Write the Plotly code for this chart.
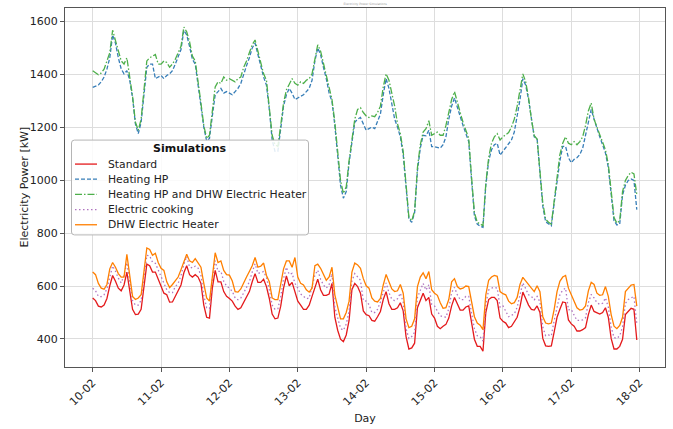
import pandas as pd
import plotly.graph_objects as go

start = pd.Timestamp("2023-02-10 00:00")
hours = list(range(192))
day_ticks = list(range(9))

standard = [555,545,524,521,528,553,601,640,618,592,
 582,604,653,586,512,492,494,512,592,683,
 677,653,653,628,598,573,567,539,540,561,
 579,604,650,677,643,634,643,634,610,528,
 482,479,592,659,616,616,579,561,553,543,
 524,512,518,537,561,579,616,647,614,614,
 626,598,553,494,476,479,524,592,638,601,
 614,573,543,528,512,512,528,561,598,626,
 586,565,565,570,610,482,433,399,390,415,
 470,586,610,598,573,506,492,488,470,467,
 484,504,549,579,533,512,512,518,537,506,
 409,362,366,384,518,543,573,545,557,494,
 479,448,439,448,455,479,525,557,531,509,
 509,521,525,457,399,372,372,354,500,549,
 557,557,545,479,467,460,443,448,463,482,
 521,577,553,528,512,509,525,500,402,374,
 372,374,427,482,512,540,537,472,457,448,
 430,430,435,443,492,528,504,500,494,500,
 518,482,402,362,362,372,399,492,506,516,
 512,396]

heating_hp = [1351,1356,1360,1372,1390,1420,1463,1549,1518,1463,
 1421,1402,1414,1378,1311,1213,1176,1219,1317,1427,
 1439,1439,1384,1390,1396,1384,1396,1402,1414,1439,
 1469,1494,1567,1549,1506,1457,1439,1366,1286,1201,
 1148,1158,1243,1323,1335,1347,1329,1335,1329,1323,
 1335,1347,1366,1402,1433,1463,1500,1518,1475,1427,
 1390,1359,1268,1152,1109,1109,1189,1280,1323,1347,
 1329,1305,1311,1317,1323,1335,1347,1378,1451,1500,
 1475,1427,1384,1329,1298,1207,1085,981,932,957,
 1066,1146,1219,1231,1237,1213,1189,1195,1201,1195,
 1225,1250,1323,1384,1347,1292,1231,1201,1164,1097,
 963,853,841,877,1036,1121,1170,1168,1189,1127,
 1127,1124,1121,1134,1164,1231,1280,1311,1274,1237,
 1207,1176,1146,999,865,834,826,822,981,1073,
 1115,1134,1140,1095,1109,1124,1136,1152,1182,1243,
 1305,1384,1359,1305,1231,1164,1158,1036,902,843,
 834,828,914,999,1073,1128,1128,1085,1066,1079,
 1085,1097,1121,1170,1225,1268,1231,1195,1164,1134,
 1103,1048,950,847,831,834,944,981,999,1005,
 999,889]

heating_hp_dhw = [1414,1405,1399,1405,1420,1451,1482,1567,1530,1488,
 1451,1439,1463,1390,1317,1219,1189,1231,1329,1451,
 1463,1469,1475,1439,1439,1451,1445,1427,1439,1457,
 1482,1506,1579,1561,1524,1469,1451,1378,1292,1207,
 1158,1170,1256,1353,1372,1366,1390,1378,1384,1378,
 1372,1384,1390,1427,1451,1482,1512,1530,1488,1439,
 1402,1378,1280,1170,1134,1128,1207,1292,1341,1366,
 1384,1366,1359,1372,1366,1378,1384,1402,1463,1512,
 1488,1439,1390,1341,1305,1219,1097,999,950,975,
 1073,1158,1231,1268,1274,1256,1243,1237,1243,1240,
 1256,1280,1353,1402,1378,1329,1280,1213,1176,1109,
 975,859,847,883,1048,1134,1182,1195,1225,1170,
 1176,1182,1170,1170,1207,1256,1305,1335,1292,1256,
 1219,1189,1158,1011,877,841,834,828,987,1085,
 1140,1164,1176,1152,1164,1173,1180,1201,1231,1280,
 1335,1402,1372,1311,1231,1168,1156,1036,914,853,
 841,834,920,1012,1097,1140,1164,1140,1134,1146,
 1134,1146,1164,1207,1262,1292,1231,1201,1170,1140,
 1115,1060,963,859,838,847,957,999,1018,1030,
 1024,945]

electric_cooking = [592,582,561,560,567,590,634,676,656,630,
 612,640,688,622,545,528,528,546,628,716,
 714,690,686,662,634,610,586,575,575,598,
 610,640,682,712,672,668,675,668,640,565,
 518,515,625,696,655,656,618,600,592,580,
 555,548,555,574,598,616,653,684,648,650,
 655,632,586,528,512,514,560,628,671,644,
 648,610,592,570,561,552,555,596,641,660,
 626,604,592,606,647,520,482,440,433,456,
 505,620,647,635,622,545,543,530,500,500,
 512,540,579,612,575,550,545,552,573,540,
 439,402,409,425,557,585,610,585,605,531,
 525,505,488,484,482,514,575,595,567,549,
 549,561,561,498,439,412,409,392,532,585,
 592,595,592,520,525,505,484,490,494,520,
 567,612,590,567,561,548,561,540,445,412,
 415,412,470,525,567,585,592,510,512,490,
 470,470,472,480,537,568,555,537,531,535,
 555,520,445,405,402,412,445,535,549,555,
 561,457]

dhw_heater = [653,643,610,592,588,606,665,689,671,647,
 634,634,720,634,561,549,555,567,647,744,
 738,716,724,689,667,659,616,594,606,622,
 634,662,695,720,695,689,704,689,671,610,
 555,543,640,726,689,695,659,643,641,619,
 579,577,589,614,634,655,677,708,671,675,
 687,640,616,555,549,549,604,665,695,695,
 671,708,634,610,604,586,577,592,677,683,
 667,641,622,634,671,567,525,476,476,500,
 543,653,687,680,667,628,601,592,555,543,
 540,553,604,644,616,589,579,582,606,573,
 476,443,448,476,598,634,650,628,655,586,
 573,565,537,516,518,549,616,628,598,589,
 592,600,598,543,484,460,452,435,567,622,
 634,640,637,579,571,567,543,533,537,557,
 606,633,618,606,592,579,601,579,484,460,
 457,460,512,579,618,634,640,592,567,549,
 518,509,512,525,582,614,606,573,565,567,
 598,561,492,448,439,451,482,579,592,604,
 606,524]

y_ticks = [400, 600, 800, 1000, 1200, 1400, 1600]

times = [start + pd.Timedelta(hours=h) for h in hours]
tick_dates = [start + pd.Timedelta(days=d) for d in day_ticks]
tick_text = [d.strftime("%d-%m") for d in tick_dates]

series = [
    ("Standard", standard, "#e41a1c", "solid"),
    ("Heating HP", heating_hp, "#377eb8", "4px,2px"),
    ("Heating HP and DHW Electric Heater", heating_hp_dhw, "#4daf4a", "7px,2px,1.5px,2px"),
    ("Electric cooking", electric_cooking, "#b074c0", "1.5px,2.5px"),
    ("DHW Electric Heater", dhw_heater, "#ff7f00", "solid"),
]

fig = go.Figure()
for name, vals, color, dash in series:
    fig.add_trace(go.Scatter(
        x=times, y=vals, mode="lines", name=name,
        line=dict(color=color, width=1.3, dash=dash),
    ))

# plot-area geometry in pixels (for placing the hand-drawn legend)
L, R, T, B = 65, 665, 7, 378
def px(xp):
    return (xp - L) / (R - L)
def py(yp):
    return (B - yp) / (B - T)

shapes = []
annotations = []
# legend frame (rounded)
x0, x1, y0, y1 = px(71.5), px(308.5), py(241.5), py(143.5)
rx, ry = 3 / (R - L), 3 / (B - T)
path = (f"M {x0+rx},{y1} L {x1-rx},{y1} Q {x1},{y1} {x1},{y1-ry} "
        f"L {x1},{y0+ry} Q {x1},{y0} {x1-rx},{y0} L {x0+rx},{y0} "
        f"Q {x0},{y0} {x0},{y0+ry} L {x0},{y1-ry} Q {x0},{y1} {x0+rx},{y1} Z")
shapes.append(dict(type="path", xref="paper", yref="paper", path=path,
                   fillcolor="rgba(255,255,255,0.85)",
                   line=dict(color="#b5b5b5", width=1), layer="above"))
annotations.append(dict(text="<b>Simulations</b>", xref="paper", yref="paper",
                        x=px(190), y=py(152.7), xanchor="center", yanchor="middle",
                        showarrow=False, font=dict(size=11, color="#111111")))
row_y = [168.3, 183.8, 199.6, 215.4, 231.0]
for (name, vals, color, dash), ry_px in zip(series, row_y):
    shapes.append(dict(type="line", xref="paper", yref="paper",
                       x0=px(75), x1=px(97), y0=py(ry_px), y1=py(ry_px),
                       line=dict(color=color, width=1.3, dash=dash), layer="above"))
    annotations.append(dict(text=name, xref="paper", yref="paper",
                            x=px(105.5), y=py(ry_px), xanchor="left", yanchor="middle",
                            showarrow=False, font=dict(size=10.8, color="#222222")))
# y-axis title
annotations.append(dict(text="Electricity Power [kW]", xref="paper", yref="paper",
                        x=px(24), y=0.5, xanchor="center", yanchor="middle",
                        textangle=-90, showarrow=False,
                        font=dict(size=11, color="#222222")))

axis_common = dict(
    showgrid=True, gridcolor="#dddddd", gridwidth=1,
    showline=True, linecolor="#555555", linewidth=1, mirror=True,
    ticks="outside", ticklen=4, tickcolor="#555555", zeroline=False,
    tickfont=dict(size=11, color="#222222"),
)

fig.update_layout(
    width=673, height=429,
    margin=dict(l=L, r=673 - R, t=T, b=429 - B),
    paper_bgcolor="white", plot_bgcolor="white",
    font=dict(family="DejaVu Sans", size=11, color="#222222"),
    title=dict(text="Electricity Power Simulations", x=0.5426, xanchor="center",
               y=0.991, yanchor="middle", font=dict(size=3, color="#999999")),
    xaxis=dict(
        type="date",
        range=[start - pd.Timedelta(hours=9.72), start + pd.Timedelta(hours=200.9)],
        tickvals=tick_dates, ticktext=tick_text, tickangle=-45,
        title=dict(text="Day", font=dict(size=11), standoff=6),
        **axis_common,
    ),
    yaxis=dict(range=[294, 1651], tickvals=y_ticks, **axis_common),
    showlegend=False,
    shapes=shapes,
    annotations=annotations,
)

fig.write_html("out.html")
